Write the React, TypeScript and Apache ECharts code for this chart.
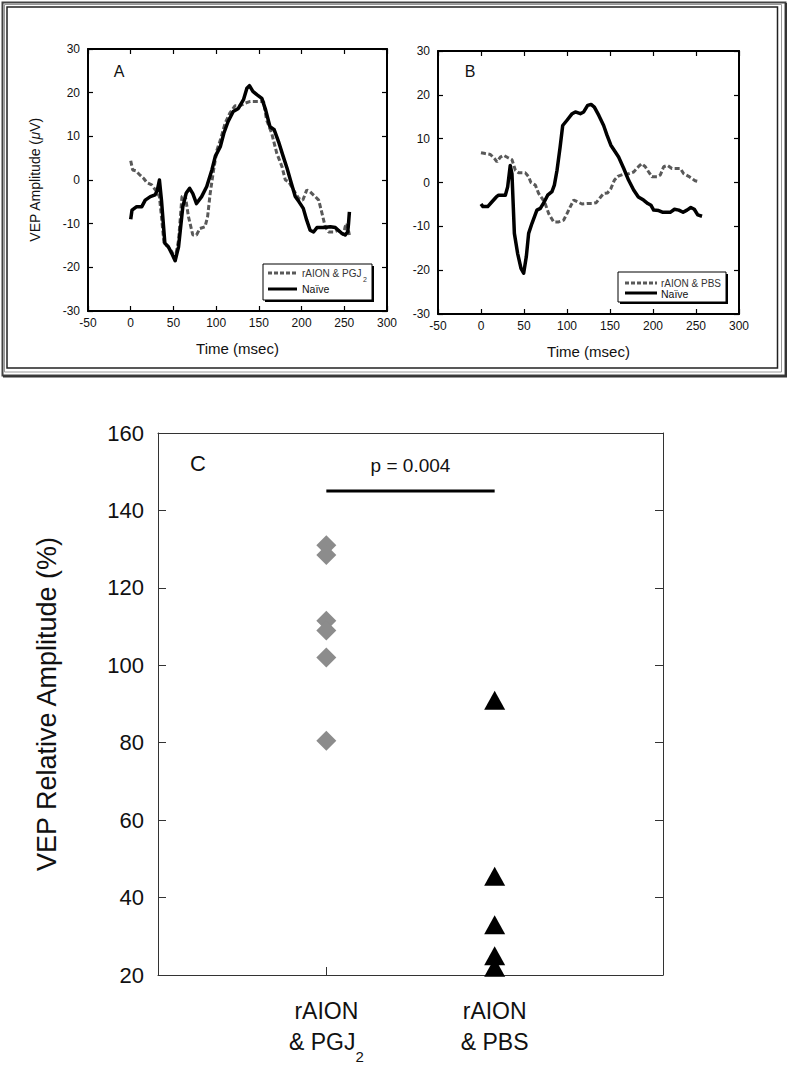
import React, { useEffect, useRef } from "react";
import * as echarts from "echarts";

// ---------- DATA ----------
// Panel A: time (msec), amplitude (µV)
const naiveA: number[][] = [
  [0, -9], [1.5, -6.9], [7, -6.1], [13, -6.1], [17, -4.6], [23, -3.8], [28.5, -3.4], [31, -2.5],
  [33.6, 0], [36, -4.6], [40, -14.5], [44, -15.3], [48, -16.8], [52, -18.5], [56, -15.3],
  [61, -6.1], [65, -3], [69, -1.9], [72.7, -3.1], [77, -5.4], [83, -3.8], [89, -1.5], [95, 2.3],
  [99, 5.4], [105, 7.7], [109, 10.7], [114, 13.4], [120, 15.7], [126, 16.4], [132, 18.4],
  [136, 21], [139, 21.6], [143, 20.3], [148, 19.5], [153.5, 18.7], [158, 16], [163, 12.2],
  [168, 11.5], [173, 8.8], [178, 5.7], [183, 2.7], [187.5, -0.4], [192.6, -3.8], [197, -5],
  [202, -6.5], [206, -9.2], [210, -11.5], [214, -11.9], [218, -10.9], [226, -10.9],
  [233.6, -10.7], [239.5, -10.9], [243, -11.5], [247, -12.2], [251, -12.6], [254, -11.9],
  [255, -9.9], [256, -7.3],
];
const pgj2A: number[][] = [
  [0, 4.4], [2.3, 2.3], [6, 2.1], [11, 1.1], [15, 0.4], [19, -0.6], [24.6, -1.1], [30.5, -2.7],
  [33.6, -3.8], [36, -8.4], [39, -14.5], [44, -15.3], [48, -16.4], [52, -18], [56, -13.8],
  [60, -3.8], [63.7, -3.4], [67.6, -8.4], [72.7, -12.6], [77, -12.6], [81, -11.1], [87, -10.7],
  [90, -8.4], [93, -3.1], [97, 2.3], [101, 6.9], [105, 9.2], [110.5, 13], [116, 15.3],
  [122, 17], [128, 17], [134, 17.6], [140, 18], [148, 18], [155.5, 18], [159, 13.8],
  [165, 10.7], [171, 6.1], [177, 3.1], [181, 0], [185, -0.4], [190.6, -2.3], [196.5, -4.2],
  [201.5, -4.6], [206, -2.3], [210, -2.7], [216, -3.8], [220, -4.6], [224, -7.7],
  [227.7, -10.7], [231.6, -11.9], [237.5, -11.9], [243, -11.5], [249, -12.6], [251, -10.7],
  [253, -9.9], [256, -12.6],
];
// Panel B
const naiveB: number[][] = [
  [0, -4.9], [2.3, -5.5], [7.8, -5.5], [12.8, -4.4], [17.8, -3.3], [20.5, -2.9], [28.3, -2.9],
  [31, -1], [34, 3.9], [36, 2], [38.8, -11.6], [42.6, -16.2], [46.5, -19.6], [49.6, -20.7],
  [52.7, -16.9], [55.4, -11.6], [59.3, -9.3], [65, -6.3], [69, -5.9], [73.6, -4.4],
  [77.5, -2.9], [82.5, -2.1], [85.3, -0.6], [88.4, 2.8], [92, 8.1], [95, 13], [100, 14.2],
  [106, 15.7], [109.7, 16.1], [115.5, 15.7], [119.4, 16.1], [124, 17.6], [128, 17.8],
  [131.8, 17.2], [137, 15.3], [142.6, 13], [146.5, 10.8], [151, 8.5], [156, 7], [160, 5.8],
  [166, 3.2], [171.7, 0.5], [177.5, -1.7], [183, -3.3], [189, -4], [194, -4.8], [197.7, -5.2],
  [200.8, -6.3], [206.6, -6.4], [211.6, -6.8], [220, -6.8], [225, -6.1], [230, -6.3],
  [235, -6.8], [239.5, -6.3], [244, -5.7], [248, -6.1], [252, -7.4], [257, -7.7],
];
const pbsB: number[][] = [
  [0, 6.8], [5, 6.6], [10.9, 6.4], [15.5, 5.5], [18.6, 4.7], [22.5, 5.8], [26.4, 6.2], [31, 5.7],
  [36, 5.2], [40, 2.8], [43.8, 2.2], [51.6, 2.2], [55.4, 1.3], [58, 0], [63.2, -0.6], [67, -2.5],
  [71, -3.6], [74.8, -4.9], [78.7, -7.1], [84.5, -9], [90.3, -9], [96, -8.6], [100, -7.1],
  [103.9, -5.5], [107.8, -4], [112.4, -4.4], [117.4, -4.9], [123, -4.8], [129, -4.8],
  [134, -4.6], [138, -3.6], [142.6, -2.5], [147, -2.4], [151, -1.4], [155, 0.5], [159, 1.4],
  [166, 1.9], [171.7, 2], [177.5, 2.4], [183, 3.6], [187, 4.3], [191, 3.6], [195, 2.4],
  [198.8, 1.3], [204.7, 1.3], [208.5, 1.7], [212.4, 3.6], [217, 3.9], [222, 3.2], [228, 3.2],
  [231.8, 3.2], [235.7, 2], [241.5, 1.4], [245.3, 0.9], [249, 0.4], [253, 0.2],
];
// Panel C
const groupPositions = [1, 2];
const groupLine1 = ["rAION", "rAION"];
const groupLine2 = ["& PGJ", "& PBS"];
const groupSub = ["2", ""];
const pgj2Relative = [131, 128.5, 111.5, 109, 102, 80.5];
const pbsRelative = [91, 45.5, 33, 25, 22];
const pValueText = "p = 0.004";
const pBar = [[1, 145], [2, 145]];
const pTextPos = [[1.5, 151.5]];

const timeMin = -50, timeMax = 300, timeStep = 50;
const vepMin = -30, vepMax = 30, vepStep = 10;
const relMin = 20, relMax = 160, relStep = 20;

const FONT = "'Liberation Sans', Arial, Helvetica, sans-serif";

function topAxes(grid: number, withYLabels: boolean, yName?: any) {
  const line = { show: true, onZero: false, lineStyle: { color: "#000", width: 2 } };
  const tick = { show: true, inside: true, length: 5, lineStyle: { color: "#000", width: 1.2 } };
  const lab = { fontSize: 12, color: "#111", fontFamily: FONT };
  const x = [
    {
      gridIndex: grid, type: "value", position: "bottom", min: timeMin, max: timeMax, interval: timeStep,
      axisLine: line, axisTick: tick, splitLine: { show: false },
      axisLabel: { ...lab, margin: 6 },
      name: "Time (msec)", nameLocation: "middle", nameGap: 30,
      nameTextStyle: { fontSize: 15, color: "#111", fontFamily: FONT },
    },
    {
      gridIndex: grid, type: "value", position: "top", min: timeMin, max: timeMax, interval: timeStep,
      axisLine: line, axisTick: tick, splitLine: { show: false }, axisLabel: { show: false },
    },
  ];
  const y = [
    {
      gridIndex: grid, type: "value", position: "left", min: vepMin, max: vepMax, interval: vepStep,
      axisLine: line, axisTick: tick, splitLine: { show: false },
      axisLabel: { ...lab, margin: 8, show: withYLabels },
      ...(yName || {}),
    },
    {
      gridIndex: grid, type: "value", position: "right", min: vepMin, max: vepMax, interval: vepStep,
      axisLine: line, axisTick: tick, splitLine: { show: false }, axisLabel: { show: false },
    },
  ];
  return { x, y };
}

export default function App() {
  const ref = useRef<HTMLDivElement>(null);
  useEffect(() => {
    document.body.style.margin = "0";
    if (!ref.current) return;
    const chart = echarts.init(ref.current, null, { renderer: "svg" });

    const a = topAxes(0, true, {
      name: "VEP Amplitude ({i|μ}V)", nameLocation: "middle", nameGap: 46,
      nameTextStyle: { fontSize: 14, color: "#111", fontFamily: FONT, rich: { i: { fontSize: 14, fontStyle: "italic", color: "#111", fontFamily: FONT } } },
    });
    const b = topAxes(1, true);

    const cLine = { show: true, onZero: false, lineStyle: { color: "#333", width: 1 } };
    const cTick = { show: true, inside: true, length: 8, lineStyle: { color: "#333", width: 1 } };

    const xAxis: any[] = [
      ...a.x, ...b.x,
      {
        gridIndex: 2, type: "value", position: "bottom", min: 0, max: 3, interval: 1,
        axisLine: cLine, axisTick: cTick, splitLine: { show: false },
        axisLabel: {
          margin: 20,
          formatter: (v: number) => {
            const i = groupPositions.indexOf(v);
            if (i < 0) return "";
            return `{a|${groupLine1[i]}}\n{a|${groupLine2[i]}}` + (groupSub[i] ? `{s|${groupSub[i]}}` : "");
          },
          rich: {
            a: { fontSize: 23, lineHeight: 31, color: "#111", fontFamily: FONT },
            s: { fontSize: 15, lineHeight: 31, color: "#111", fontFamily: FONT, padding: [30, 0, 0, 0] },
          },
        },
      },
      {
        gridIndex: 2, type: "value", position: "top", min: 0, max: 3, interval: 1,
        axisLine: cLine, axisTick: { show: false }, axisLabel: { show: false }, splitLine: { show: false },
      },
    ];
    const yAxis: any[] = [
      ...a.y, ...b.y,
      {
        gridIndex: 2, type: "value", position: "left", min: relMin, max: relMax, interval: relStep,
        axisLine: cLine, axisTick: cTick, splitLine: { show: false },
        axisLabel: { fontSize: 22, color: "#111", fontFamily: FONT, margin: 14 },
        name: "VEP Relative Amplitude (%)", nameLocation: "middle", nameGap: 98,
        nameTextStyle: { fontSize: 27, color: "#111", fontFamily: FONT },
      },
      {
        gridIndex: 2, type: "value", position: "right", min: relMin, max: relMax, interval: relStep,
        axisLine: cLine, axisTick: cTick, axisLabel: { show: false }, splitLine: { show: false },
      },
    ];

    const dashed = { color: "#595959", width: 3, type: [5, 2.5], cap: "butt" };
    const solid = { color: "#000", width: 3.5, join: "round" };

    const series: any[] = [
      { type: "line", xAxisIndex: 0, yAxisIndex: 0, data: pgj2A, showSymbol: false, symbol: "none", lineStyle: dashed },
      { type: "line", xAxisIndex: 0, yAxisIndex: 0, data: naiveA, showSymbol: false, symbol: "none", lineStyle: solid },
      { type: "line", xAxisIndex: 2, yAxisIndex: 2, data: pbsB, showSymbol: false, symbol: "none", lineStyle: dashed },
      { type: "line", xAxisIndex: 2, yAxisIndex: 2, data: naiveB, showSymbol: false, symbol: "none", lineStyle: solid },
      {
        type: "scatter", xAxisIndex: 4, yAxisIndex: 4, symbol: "diamond", symbolSize: 20,
        itemStyle: { color: "#8c8c8c", opacity: 1 }, data: pgj2Relative.map((v) => [groupPositions[0], v]),
      },
      {
        type: "scatter", xAxisIndex: 4, yAxisIndex: 4, symbol: "triangle", symbolSize: [21, 19],
        itemStyle: { color: "#000", opacity: 1 }, data: pbsRelative.map((v) => [groupPositions[1], v]),
      },
      {
        type: "line", xAxisIndex: 4, yAxisIndex: 4, data: pBar, symbol: "none",
        lineStyle: { color: "#000", width: 3 },
      },
      {
        type: "scatter", xAxisIndex: 4, yAxisIndex: 4, data: pTextPos, symbolSize: 0,
        itemStyle: { opacity: 1 },
        label: { show: true, position: "inside", formatter: pValueText, fontSize: 19, color: "#111", fontFamily: FONT },
      },
    ];

    const txt = (text: string, x: number, y: number, size: number, extra: any = {}) => ({
      type: "text", x, y,
      style: { text, fontSize: size, fontFamily: FONT, fill: "#111", align: "center", verticalAlign: "middle", ...extra },
      z: 10,
    });

    const graphic: any[] = [
      // frame around the top panels
      { type: "rect", shape: { x: 2.5, y: 2.5, width: 783, height: 373 }, style: { fill: "none", stroke: "#444", lineWidth: 2 }, z: 5 },
      { type: "polyline", shape: { points: [[786, 3], [786, 376.5], [3, 376.5]] }, style: { fill: "none", stroke: "#333", lineWidth: 2 }, z: 5 },
      { type: "rect", shape: { x: 4.5, y: 4.5, width: 777, height: 367.5 }, style: { fill: "none", stroke: "#999", lineWidth: 1 }, z: 5 },
      { type: "rect", shape: { x: 7, y: 7, width: 770.5, height: 361 }, style: { fill: "none", stroke: "#222", lineWidth: 1.5 }, z: 5 },
      // legend A
      { type: "rect", shape: { x: 265, y: 266, width: 109, height: 36 }, style: { fill: "#000" }, z: 10 },
      { type: "rect", shape: { x: 263, y: 264, width: 109, height: 36 }, style: { fill: "#fff", stroke: "#000", lineWidth: 1 }, z: 11 },
      { type: "line", shape: { x1: 268, y1: 273, x2: 297, y2: 273 }, style: { stroke: "#595959", lineWidth: 3, lineDash: [4, 2] }, z: 12 },
      { type: "line", shape: { x1: 268, y1: 289, x2: 297, y2: 289 }, style: { stroke: "#000", lineWidth: 3 }, z: 12 },
      { ...txt("rAION & PGJ", 302, 273, 10, { align: "left", fill: "#333" }), z: 12 },
      { ...txt("2", 363, 279, 7, { align: "left", fill: "#333" }), z: 12 },
      { ...txt("Naïve", 302, 289, 10.5, { align: "left", fill: "#111" }), z: 12 },
      // legend B
      { type: "rect", shape: { x: 620, y: 274, width: 108, height: 30 }, style: { fill: "#000" }, z: 10 },
      { type: "rect", shape: { x: 618, y: 272, width: 108, height: 30 }, style: { fill: "#fff", stroke: "#000", lineWidth: 1 }, z: 11 },
      { type: "line", shape: { x1: 625, y1: 283, x2: 657, y2: 283 }, style: { stroke: "#595959", lineWidth: 3, lineDash: [4, 2] }, z: 12 },
      { type: "line", shape: { x1: 625, y1: 293, x2: 657, y2: 293 }, style: { stroke: "#000", lineWidth: 3 }, z: 12 },
      { ...txt("rAION & PBS", 661, 283, 10, { align: "left", fill: "#333" }), z: 12 },
      { ...txt("Naïve", 661, 294, 10.5, { align: "left", fill: "#111" }), z: 12 },
      // panel letters
      txt("A", 119, 71, 16),
      txt("B", 470, 71, 16),
      txt("C", 198, 463, 22),
    ];

    chart.setOption({
      animation: false,
      backgroundColor: "#fff",
      textStyle: { fontFamily: FONT },
      grid: [
        { left: 88, top: 49, width: 299, height: 262 },
        { left: 438, top: 51, width: 301, height: 263 },
        { left: 158, top: 433, width: 505, height: 542 },
      ],
      xAxis,
      yAxis,
      series,
      graphic,
    });
    return () => chart.dispose();
  }, []);
  return <div ref={ref} style={{ width: 789, height: 1067 }} />;
}
